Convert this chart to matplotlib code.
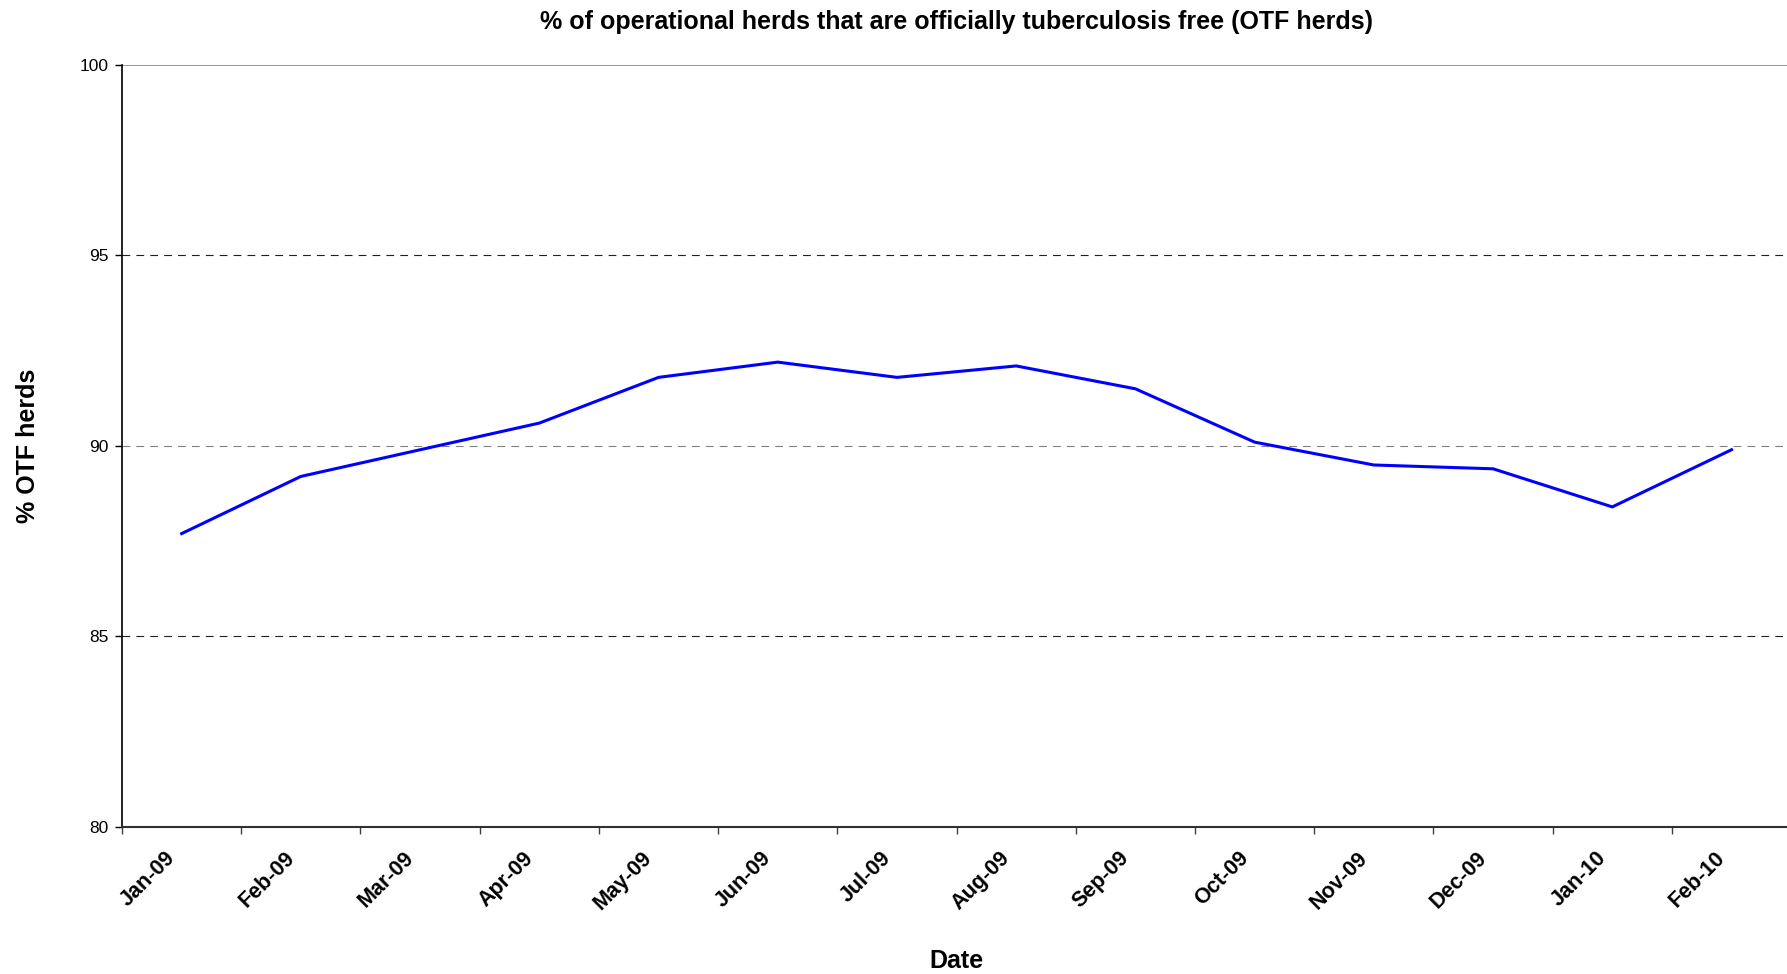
import matplotlib
matplotlib.use("Agg")
import matplotlib.pyplot as plt
import matplotlib.transforms as mtransforms
import numpy as np

plt.rcParams['font.family'] = ['Liberation Sans', 'DejaVu Sans']

# data
meses = ["Jan-09", "Feb-09", "Mar-09", "Apr-09", "May-09", "Jun-09", "Jul-09",
         "Aug-09", "Sep-09", "Oct-09", "Nov-09", "Dec-09", "Jan-10", "Feb-10"]
pct_otf = [87.7, 89.2, 89.9, 90.6, 91.8, 92.2, 91.8,
           92.1, 91.5, 90.1, 89.5, 89.4, 88.4, 89.9]
y_ticks = [80, 85, 90, 95, 100]

fig = plt.figure(figsize=(17.87, 9.74), dpi=100)
ax = fig.add_axes([0.0683, 0.151, 0.934, 0.7823])

x = np.arange(len(meses))

# lineas de grilla horizontales (estilo Excel)
ax.axhline(95, color="#202020", lw=0.8, ls=(0, (7, 5.5)), zorder=1)
ax.axhline(85, color="#202020", lw=0.8, ls=(0, (7, 5.5)), zorder=1)
ax.axhline(90, color="#808080", lw=0.8, ls=(0, (7, 5.5)), zorder=1)
ax.axhline(100, color="#808080", lw=1.2, zorder=1)

ax.plot(x, pct_otf, color="#0000FF", lw=2.2, zorder=3)

ax.set_xlim(-0.5, len(meses) - 0.5)
ax.set_ylim(80, 100)

# ticks: etiquetas en el centro, marcas entre categorias
ax.set_xticks(x)
ax.set_xticklabels(meses, rotation=45, ha="right", va="top",
                   rotation_mode="anchor", fontsize=15.5, fontweight="bold")
ax.set_xticks(np.arange(-0.5, len(meses), 1), minor=True)
ax.tick_params(axis="x", which="major", length=0, pad=15)
ax.tick_params(axis="x", which="minor", length=5, width=1.0, color="#404040")
offset = mtransforms.ScaledTranslation(-17 / 100, 0, fig.dpi_scale_trans)
for lab in ax.get_xticklabels():
    lab.set_transform(lab.get_transform() + offset)

ax.set_yticks(y_ticks)
ax.set_yticklabels([str(v) for v in y_ticks], fontsize=12.5)
ax.tick_params(axis="y", length=5, width=1.0, pad=5)

ax.spines["top"].set_visible(False)
ax.spines["right"].set_visible(False)
ax.spines["left"].set_linewidth(1.2)
ax.spines["bottom"].set_linewidth(1.5)
ax.spines["bottom"].set_color("#303030")

ax.set_title("% of operational herds that are officially tuberculosis free (OTF herds)",
             fontsize=18, fontweight="bold", pad=26)
ax.set_ylabel("% OTF herds", fontsize=18, fontweight="bold", labelpad=28)
ax.set_xlabel("Date", fontsize=18, fontweight="bold", labelpad=25)

fig.savefig("out.png", dpi=100)
